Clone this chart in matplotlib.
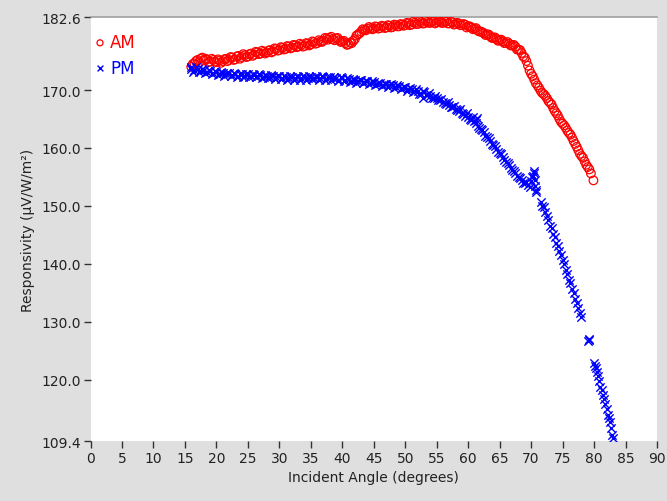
import matplotlib
matplotlib.use("Agg")
import matplotlib.pyplot as plt

# AM series (incident angle in degrees, responsivity in uV/W/m2), first pass of readings
am_angle = [16.0, 16.5, 17.0, 17.5, 18.0, 18.5, 19.0, 19.5, 20.0, 20.5,
            21.0, 21.5, 22.0, 22.5, 23.0, 23.5, 24.0, 24.5, 25.0, 25.5,
            26.0, 26.5, 27.0, 27.5, 28.0, 28.5, 29.0, 29.5, 30.0, 30.5,
            31.0, 31.5, 32.0, 32.5, 33.0, 33.5, 34.0, 34.5, 35.0, 35.5,
            36.0, 36.5, 37.0, 37.5, 38.0, 38.5, 39.0, 39.5, 40.0, 40.5,
            41.0, 41.5, 42.0, 42.5, 43.0, 43.5, 44.0, 44.5, 45.0, 45.5,
            46.0, 46.5, 47.0, 47.5, 48.0, 48.5, 49.0, 49.5, 50.0, 50.5,
            51.0, 51.5, 52.0, 52.5, 53.0, 53.5, 54.0, 54.5, 55.0, 55.5,
            56.0, 56.5, 57.0, 57.5, 58.0, 58.5, 59.0, 59.5, 60.0, 60.5,
            61.0, 61.5, 62.0, 62.5, 63.0, 63.5, 64.0, 64.5, 65.0, 65.5,
            66.0, 66.5, 67.0, 67.5, 68.0, 68.5, 69.0, 69.5, 70.0, 70.5,
            71.0, 71.5, 72.0, 72.5, 73.0, 73.5, 74.0, 74.5, 75.0, 75.5,
            76.0, 76.5, 77.0, 77.5, 78.0, 78.5, 79.0, 79.5, 79.9]
am_resp = [174.0, 174.6, 175.2, 175.4, 175.1, 175.3, 174.9, 175.2, 174.8, 175.1,
           175.0, 175.4, 175.2, 175.6, 175.3, 175.9, 175.7, 176.0, 175.8, 176.3,
           176.1, 176.5, 176.3, 176.6, 176.5, 176.9, 176.7, 177.1, 176.9, 177.3,
           177.1, 177.5, 177.3, 177.7, 177.5, 177.8, 177.6, 178.0, 177.9, 178.3,
           178.1, 178.4, 178.5, 178.9, 179.0, 178.8, 178.9, 178.6, 178.4, 178.1,
           177.9, 178.1, 178.8, 179.6, 180.1, 180.4, 180.6, 180.7, 180.6, 180.9,
           180.7, 181.0, 180.8, 181.1, 180.9, 181.2, 181.0, 181.3, 181.2, 181.5,
           181.3, 181.6, 181.4, 181.7, 181.5, 181.8, 181.6, 181.9, 181.7, 181.8,
           181.6, 181.8, 181.5, 181.7, 181.4, 181.5, 181.2, 181.3, 181.0, 180.8,
           180.6, 180.3, 180.1, 179.8, 179.6, 179.3, 179.0, 178.8, 178.6, 178.4,
           178.1, 178.0, 177.7, 177.5, 177.0, 176.4, 175.6, 174.2, 172.8, 171.8,
           170.8, 169.9, 169.3, 168.6, 167.8, 166.9, 166.0, 165.0, 164.2, 163.5,
           162.6, 161.8, 160.7, 159.6, 158.6, 157.7, 156.7, 155.6, 154.4]

# AM series, second pass of readings (between the first ones)
am_angle_b = [16.25, 16.75, 17.25, 17.75, 18.25, 18.75, 19.25, 19.75, 20.25, 20.75,
              21.25, 21.75, 22.25, 22.75, 23.25, 23.75, 24.25, 24.75, 25.25, 25.75,
              26.25, 26.75, 27.25, 27.75, 28.25, 28.75, 29.25, 29.75, 30.25, 30.75,
              31.25, 31.75, 32.25, 32.75, 33.25, 33.75, 34.25, 34.75, 35.25, 35.75,
              36.25, 36.75, 37.25, 37.75, 38.25, 38.75, 39.25, 39.75, 40.25, 40.75,
              41.25, 41.75, 42.25, 42.75, 43.25, 43.75, 44.25, 44.75, 45.25, 45.75,
              46.25, 46.75, 47.25, 47.75, 48.25, 48.75, 49.25, 49.75, 50.25, 50.75,
              51.25, 51.75, 52.25, 52.75, 53.25, 53.75, 54.25, 54.75, 55.25, 55.75,
              56.25, 56.75, 57.25, 57.75, 58.25, 58.75, 59.25, 59.75, 60.25, 60.75,
              61.25, 61.75, 62.25, 62.75, 63.25, 63.75, 64.25, 64.75, 65.25, 65.75,
              66.25, 66.75, 67.25, 67.75, 68.25, 68.75, 69.25, 69.75, 70.25, 70.75,
              71.25, 71.75, 72.25, 72.75, 73.25, 73.75, 74.25, 74.75, 75.25, 75.75,
              76.25, 76.75, 77.25, 77.75, 78.25, 78.75, 79.25]
am_resp_b = [174.5, 175.0, 174.8, 175.6, 175.4, 174.8, 175.4, 174.9, 175.3, 174.7,
             175.3, 175.0, 175.7, 175.2, 175.8, 175.4, 176.2, 175.7, 176.2, 175.9,
             176.6, 176.2, 176.8, 176.3, 176.8, 176.5, 177.2, 176.8, 177.4, 177.0,
             177.6, 177.2, 177.8, 177.4, 178.0, 177.5, 178.1, 177.7, 178.4, 178.0,
             178.6, 178.3, 179.0, 178.7, 179.2, 178.6, 179.0, 178.3, 178.5, 177.8,
             178.2, 178.5, 179.4, 179.8, 180.5, 180.3, 180.9, 180.5, 181.0, 180.6,
             181.1, 180.7, 181.2, 180.8, 181.3, 181.0, 181.4, 181.1, 181.6, 181.2,
             181.8, 181.4, 181.9, 181.5, 182.0, 181.6, 181.8, 181.5, 182.0, 181.6,
             181.9, 181.5, 181.8, 181.3, 181.6, 181.2, 181.4, 180.8, 181.0, 180.5,
             180.7, 180.1, 180.0, 179.5, 179.6, 179.0, 179.1, 178.5, 178.7, 178.1,
             178.3, 177.7, 177.8, 177.0, 176.9, 175.8, 175.0, 173.4, 172.4, 171.2,
             170.4, 169.5, 169.0, 168.1, 167.5, 166.4, 165.6, 164.5, 163.9, 163.0,
             162.3, 161.2, 160.2, 159.0, 158.3, 157.1, 156.3]

# PM series, first pass of readings
pm_angle = [15.9, 16.0, 16.5, 17.0, 17.5, 18.0, 18.5, 19.0, 19.5, 20.0,
            20.5, 21.0, 21.5, 22.0, 22.5, 23.0, 23.5, 24.0, 24.5, 25.0,
            25.5, 26.0, 26.5, 27.0, 27.5, 28.0, 28.5, 29.0, 29.5, 30.0,
            30.5, 31.0, 31.5, 32.0, 32.5, 33.0, 33.5, 34.0, 34.5, 35.0,
            35.5, 36.0, 36.5, 37.0, 37.5, 38.0, 38.5, 39.0, 39.5, 40.0,
            40.5, 41.0, 41.5, 42.0, 42.5, 43.0, 43.5, 44.0, 44.5, 45.0,
            45.5, 46.0, 46.5, 47.0, 47.5, 48.0, 48.5, 49.0, 49.5, 50.0,
            50.5, 51.0, 51.5, 52.0, 52.5, 52.9, 53.0, 53.5, 54.0, 54.5,
            55.0, 55.5, 56.0, 56.5, 57.0, 57.5, 58.0, 58.5, 59.0, 59.5,
            60.0, 60.5, 61.0, 61.3, 61.6, 62.0, 62.5, 63.0, 63.5, 64.0,
            64.5, 65.0, 65.5, 66.0, 66.5, 67.0, 67.5, 68.0, 68.5, 69.0,
            69.5, 70.0, 70.3, 70.5, 70.6, 70.8, 71.5, 72.0, 72.5, 73.0,
            73.5, 74.0, 74.5, 75.0, 75.5, 76.0, 76.5, 77.0, 77.5, 78.0,
            79.1, 79.2, 80.0, 80.3, 80.6, 81.0, 81.4, 81.8, 82.2, 82.6,
            82.9, 83.0]
pm_resp = [173.6, 174.0, 173.5, 173.7, 173.3, 173.5, 173.1, 173.3, 172.9, 173.2,
           172.8, 173.0, 172.7, 172.9, 172.6, 172.8, 172.5, 172.7, 172.4, 172.7,
           172.5, 172.6, 172.4, 172.6, 172.3, 172.5, 172.2, 172.4, 172.2, 172.4,
           172.1, 172.3, 172.1, 172.3, 172.0, 172.3, 172.1, 172.3, 172.0, 172.2,
           172.1, 172.3, 172.0, 172.2, 171.9, 172.2, 172.0, 172.1, 171.8, 172.0,
           171.7, 171.9, 171.6, 171.8, 171.5, 171.7, 171.4, 171.5, 171.2, 171.4,
           171.1, 171.2, 170.9, 171.1, 170.8, 170.9, 170.6, 170.7, 170.3, 170.5,
           170.1, 170.2, 169.9, 169.9, 169.4, 168.6, 169.6, 169.2, 169.0, 168.7,
           168.6, 168.2, 168.0, 167.6, 167.4, 167.0, 166.8, 166.3, 166.1, 165.6,
           165.4, 164.9, 164.6, 164.9, 163.8, 163.3, 162.7, 161.9, 161.2, 160.5,
           159.8, 159.1, 158.4, 157.6, 157.0, 156.2, 155.6, 155.0, 154.4, 154.0,
           153.6, 154.3, 155.2, 156.0, 153.4, 152.4, 150.6, 149.8, 148.2, 146.6,
           145.2, 143.6, 142.2, 140.6, 139.0, 137.2, 135.6, 134.0, 132.4, 130.8,
           126.6, 127.0, 122.8, 122.0, 120.6, 118.7, 117.4, 115.8, 113.9, 112.6,
           110.4, 110.0]

# PM series, second pass of readings
pm_angle_b = [16.25, 16.75, 17.25, 17.75, 18.25, 18.75, 19.25, 19.75, 20.25, 20.75,
              21.25, 21.75, 22.25, 22.75, 23.25, 23.75, 24.25, 24.75, 25.25, 25.75,
              26.25, 26.75, 27.25, 27.75, 28.25, 28.75, 29.25, 29.75, 30.25, 30.75,
              31.25, 31.75, 32.25, 32.75, 33.25, 33.75, 34.25, 34.75, 35.25, 35.75,
              36.25, 36.75, 37.25, 37.75, 38.25, 38.75, 39.25, 39.75, 40.25, 40.75,
              41.25, 41.75, 42.25, 42.75, 43.25, 43.75, 44.25, 44.75, 45.25, 45.75,
              46.25, 46.75, 47.25, 47.75, 48.25, 48.75, 49.25, 49.75, 50.25, 50.75,
              51.25, 51.75, 52.25, 52.75, 53.25, 53.75, 54.25, 54.75, 55.25, 55.75,
              56.25, 56.75, 57.25, 57.75, 58.25, 58.75, 59.25, 59.75, 60.25, 60.75,
              61.25, 61.45, 61.75, 62.25, 62.75, 63.25, 63.75, 64.25, 64.75, 65.25,
              65.75, 66.25, 66.75, 67.25, 67.75, 68.25, 68.75, 69.25, 69.75, 70.15,
              70.4, 70.55, 70.7, 71.75, 72.25, 72.75, 73.25, 73.75, 74.25, 74.75,
              75.25, 75.75, 76.25, 76.75, 77.25, 77.75, 79.15, 80.15, 80.45, 80.8,
              81.2, 81.6, 82.0, 82.4, 82.75]
pm_resp_b = [173.2, 173.9, 173.1, 173.6, 172.9, 173.4, 172.8, 173.3, 172.6, 173.1,
             172.5, 173.0, 172.4, 172.9, 172.3, 172.8, 172.2, 172.8, 172.3, 172.7,
             172.2, 172.8, 172.1, 172.6, 172.0, 172.6, 171.9, 172.5, 171.9, 172.5,
             171.8, 172.4, 171.8, 172.4, 171.8, 172.4, 171.8, 172.4, 171.9, 172.4,
             171.8, 172.4, 171.7, 172.3, 171.7, 172.3, 171.6, 172.2, 171.5, 172.0,
             171.4, 171.9, 171.3, 171.8, 171.2, 171.6, 171.0, 171.5, 170.8, 171.3,
             170.7, 171.1, 170.5, 171.0, 170.3, 170.8, 170.1, 170.6, 169.9, 170.4,
             169.6, 170.1, 169.4, 169.9, 169.2, 169.5, 168.7, 169.0, 168.2, 168.5,
             167.7, 168.0, 167.1, 167.3, 166.5, 166.7, 165.8, 166.0, 165.0, 165.3,
             164.3, 165.1, 163.4, 163.1, 162.1, 161.7, 160.7, 160.3, 159.3, 158.9,
             157.9, 157.4, 156.5, 156.0, 155.1, 154.8, 153.9, 154.1, 153.3, 155.0,
             155.6, 154.5, 152.8, 150.0, 148.9, 147.6, 146.1, 144.6, 143.0, 141.5,
             139.9, 138.2, 136.6, 134.9, 133.3, 131.5, 126.9, 122.3, 121.4, 119.7,
             118.2, 116.6, 114.9, 113.3, 111.6]

x_ticks = list(range(0, 95, 5))
y_ticks = [109.4, 120.0, 130.0, 140.0, 150.0, 160.0, 170.0, 182.6]

fig = plt.figure(figsize=(6.67, 5.02), dpi=100, facecolor="#dfdfdf")
ax = fig.add_axes([0.1357, 0.1195, 0.8493, 0.8445])
ax.set_facecolor("white")

ax.scatter(am_angle + am_angle_b, am_resp + am_resp_b, s=38, facecolors="none",
           edgecolors="#ff0000", linewidths=0.9, marker="o", label="AM", zorder=3)
ax.scatter(pm_angle + pm_angle_b, pm_resp + pm_resp_b, s=36, color="#0000ff",
           linewidths=1.0, marker="x", label="PM", zorder=3)

ax.set_xlim(0, 90)
ax.set_ylim(109.4, 182.6)
ax.set_xticks(x_ticks)
ax.set_yticks(y_ticks)
ax.set_yticklabels(["%.1f" % v for v in y_ticks])

for side in ["left", "right", "bottom"]:
    ax.spines[side].set_visible(False)
ax.spines["top"].set_color("#a0a0a0")
ax.spines["top"].set_linewidth(1.2)

ax.tick_params(direction="out", length=5, width=1, color="#333333",
               labelsize=10, pad=2, labelcolor="#222222")

ax.set_xlabel("Incident Angle (degrees)", fontsize=10, color="#222222", labelpad=4)
ax.set_ylabel("Responsivity (µV/W/m²)", fontsize=10, color="#222222", labelpad=4)

leg = ax.legend(loc="upper left", bbox_to_anchor=(0.005, 0.962), frameon=False,
                fontsize=12, handletextpad=0.2, handlelength=0.8, borderpad=0,
                borderaxespad=0, labelspacing=0.45, markerscale=0.7)
for txt, c in zip(leg.get_texts(), ["#ff0000", "#0000ff"]):
    txt.set_color(c)

fig.savefig("out.png", dpi=100, facecolor=fig.get_facecolor())
